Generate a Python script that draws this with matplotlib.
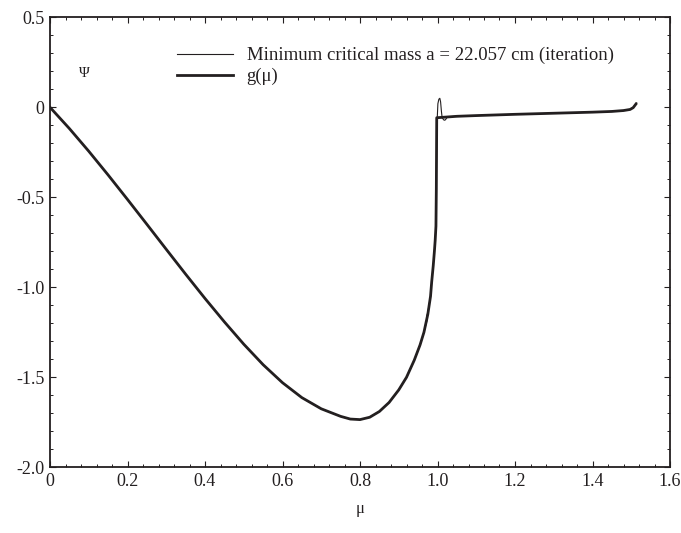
import matplotlib
matplotlib.use("Agg")
import matplotlib.pyplot as plt
from matplotlib.ticker import MultipleLocator, FixedLocator, FixedFormatter

# ---- data ----
mu_g = [0.0, 0.05, 0.10, 0.15, 0.20, 0.25, 0.30, 0.35, 0.40, 0.45, 0.50, 0.55,
        0.60, 0.65, 0.70, 0.75, 0.775, 0.80, 0.825, 0.85, 0.875, 0.90, 0.92,
        0.94, 0.955, 0.965, 0.975, 0.982, 0.985, 0.989, 0.992, 0.994, 0.996,
        0.997, 0.9975, 0.998, 1.05, 1.10, 1.20, 1.30, 1.40, 1.45, 1.48, 1.497,
        1.505, 1.512]
psi_g = [0.0, -0.118, -0.244, -0.376, -0.512, -0.650, -0.789, -0.927, -1.062,
         -1.192, -1.316, -1.430, -1.530, -1.613, -1.675, -1.717, -1.732, -1.735,
         -1.722, -1.690, -1.640, -1.570, -1.500, -1.405, -1.320, -1.250, -1.150,
         -1.050, -0.970, -0.880, -0.800, -0.740, -0.660, -0.450, -0.250, -0.058,
         -0.050, -0.046, -0.039, -0.033, -0.027, -0.023, -0.018, -0.012, -0.002,
         0.018]

mu_it = [0.0, 0.05, 0.10, 0.15, 0.20, 0.25, 0.30, 0.35, 0.40, 0.45, 0.50, 0.55,
         0.60, 0.65, 0.70, 0.75, 0.775, 0.80, 0.825, 0.85, 0.875, 0.90, 0.92,
         0.94, 0.955, 0.965, 0.9705, 0.9735, 0.9720, 0.975, 0.982, 0.985, 0.989,
         0.992, 0.994, 0.996, 0.997, 0.9985, 1.001, 1.0035, 1.006, 1.008, 1.010,
         1.012, 1.016, 1.019, 1.022, 1.025, 1.03, 1.05, 1.10, 1.20, 1.30, 1.40,
         1.45, 1.48, 1.497, 1.505, 1.514]
psi_it = [0.0, -0.118, -0.244, -0.376, -0.512, -0.650, -0.789, -0.927, -1.062,
          -1.192, -1.316, -1.430, -1.530, -1.613, -1.675, -1.717, -1.732, -1.735,
          -1.722, -1.690, -1.640, -1.570, -1.500, -1.405, -1.320, -1.250, -1.205,
          -1.180, -1.160, -1.140, -1.050, -0.970, -0.880, -0.800, -0.740, -0.660,
          -0.400, -0.100, 0.020, 0.045, 0.050, 0.030, -0.020, -0.058, -0.070,
          -0.072, -0.065, -0.055, -0.052, -0.050, -0.046, -0.039, -0.033, -0.027,
          -0.023, -0.018, -0.012, 0.000, 0.025]

x_ticks = [0.0, 0.2, 0.4, 0.6, 0.8, 1.0, 1.2, 1.4, 1.6]
x_tick_labels = ["0", "0.2", "0.4", "0.6", "0.8", "1.0", "1.2", "1.4", "1.6"]
y_ticks = [0.5, 0.0, -0.5, -1.0, -1.5, -2.0]
y_tick_labels = ["0.5", "0", "-0.5", "-1.0", "-1.5", "-2.0"]

label_it = "Minimum critical mass a = 22.057 cm (iteration)"
label_g = "g(\u03bc)"

# ---- plot ----
plt.rcParams["font.family"] = ["Liberation Serif", "DejaVu Serif"]
ink = "#231f20"

fig = plt.figure(figsize=(6.81, 5.33), dpi=100)
ax = fig.add_axes([50/681, 1 - 467.3/533, 620/681, 450/533])

ax.plot(mu_it, psi_it, color=ink, lw=0.8, label=label_it)
ax.plot(mu_g, psi_g, color=ink, lw=2.0, label=label_g, solid_joinstyle="round")

ax.set_xlim(0, 1.6)
ax.set_ylim(-2.0, 0.5)
ax.xaxis.set_major_locator(FixedLocator(x_ticks))
ax.xaxis.set_major_formatter(FixedFormatter(x_tick_labels))
ax.yaxis.set_major_locator(FixedLocator(y_ticks))
ax.yaxis.set_major_formatter(FixedFormatter(y_tick_labels))
ax.xaxis.set_minor_locator(MultipleLocator(0.04))
ax.yaxis.set_minor_locator(MultipleLocator(0.1))
ax.tick_params(which="both", direction="in", top=True, right=True,
               colors=ink, labelsize=13, pad=4)
ax.tick_params(which="major", length=4, width=0.8)
ax.tick_params(which="minor", length=2.5, width=0.7)
for s in ax.spines.values():
    s.set_color(ink)
    s.set_linewidth(1.3)

ax.set_xlabel("\u03bc", fontsize=12, color=ink, labelpad=8)
ax.text(0.088, 0.185, "\u03a8", fontsize=10.5, color=ink, ha="center", va="center")

leg = ax.legend(loc="upper left", bbox_to_anchor=(0.19, 0.955), frameon=False,
                fontsize=13.5, handlelength=3.0, handletextpad=0.7,
                labelspacing=0.2, borderpad=0)
for t in leg.get_texts():
    t.set_color(ink)

fig.savefig("out.png", dpi=100)
